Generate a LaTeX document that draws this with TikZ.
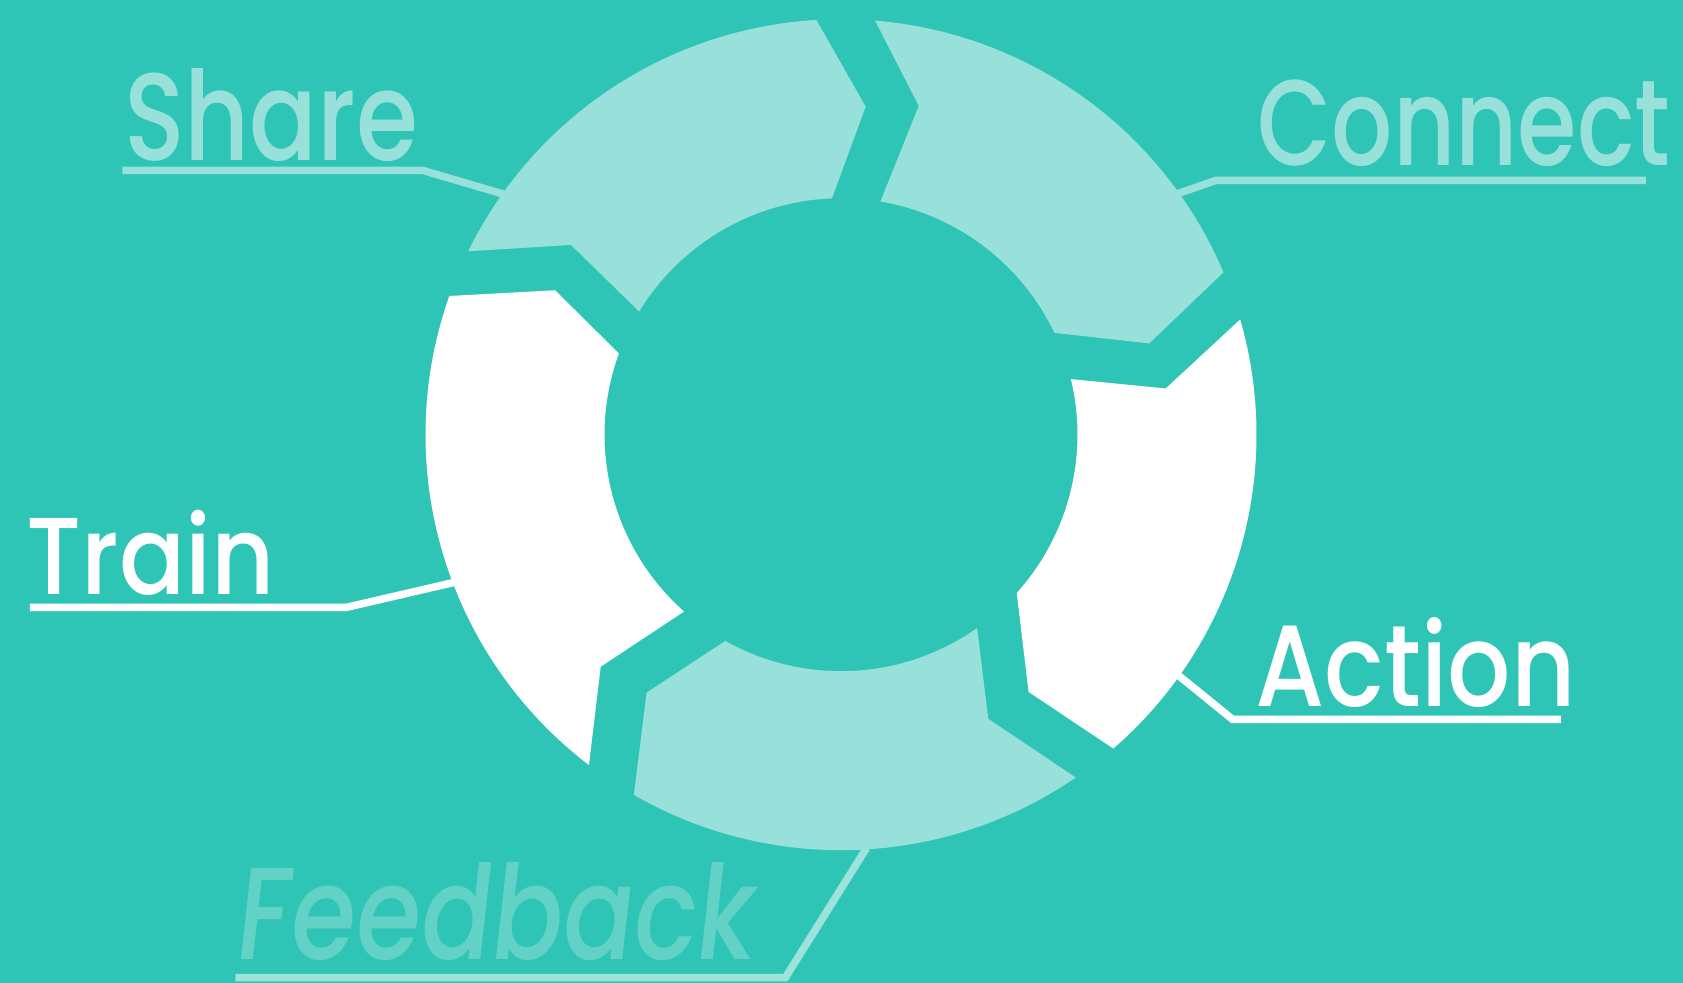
\documentclass[tikz,border=0pt]{standalone}
\usepackage{fontspec}
\IfFontExistsTF{Poppins Medium}
  {\setmainfont{Poppins Medium}\newfontfamily\slantfont{Poppins Medium}[FakeSlant=0.14]}
  {\setmainfont{Poppins}\newfontfamily\slantfont{Poppins}[FakeSlant=0.14]}
\usetikzlibrary{calc}
\definecolor{Teal}{HTML}{2FC5B6}
\definecolor{Mint}{HTML}{97E1DA}
\definecolor{MintMid}{HTML}{62D1C6}
\definecolor{MintLine}{HTML}{9DE3DC}
\newlength\pxu
\setlength\pxu{0.1mm}

\begin{document}
\begin{tikzpicture}[x=0.1mm,y=0.1mm,
    lead/.style={line width=7.5\pxu,draw=#1},
    lbl/.style={inner sep=0,anchor=base west,text=#1}
  ]
    \fill[Teal] (0,0) rectangle (1683,983);
    \coordinate (c) at (841,548.3);

    % labels
    \node[lbl=Mint] (share) at (123.4,822) {\resizebox{294\pxu}{92\pxu}{Share}};
    \node[lbl=Mint] (connect) at (1256.7,817.3) {\resizebox{413\pxu}{85.7\pxu}{Connect}};
    \node[lbl=white] (train) at (26,388) {\resizebox{248\pxu}{84.3\pxu}{Train}};
    \node[lbl=white] (action) at (1255,276.3) {\resizebox{320\pxu}{89\pxu}{Action}};
    \node[lbl=MintMid] (feedback) at (233,23.7) {\resizebox{518\pxu}{97\pxu}{\slantfont Feedback}};

    % underline + leader to the ring
    \coordinate (share-a) at (122.3,812.7);   \coordinate (share-k) at (422.5,812.7);
    \coordinate (connect-a) at (1645.9,802.5); \coordinate (connect-k) at (1215.6,802.5);
    \coordinate (train-a) at (29.9,375.7);    \coordinate (train-k) at (346.7,375.7);
    \coordinate (action-a) at (1560.8,263.7);  \coordinate (action-k) at (1232.5,263.7);
    \coordinate (feedback-a) at (235.4,5.3);  \coordinate (feedback-k) at (785.3,5.3);
    \coordinate (share-e) at ($(c)+(144.5:414)$);
    \coordinate (connect-e) at ($(c)+(35.6:414)$);
    \coordinate (train-e) at ($(c)+(200.9:414)$);
    \coordinate (action-e) at ($(c)+(-35.5:414)$);
    \coordinate (feedback-e) at ($(c)+(-86.45:414)$);
    \draw[lead=Mint] (share-a) -- (share-k) -- (share-e);
    \draw[lead=Mint] (connect-a) -- (connect-k) -- (connect-e);
    \draw[lead=white] (train-a) -- (train-k) -- (train-e);
    \draw[lead=white] (action-a) -- (action-k) -- (action-e);
    \draw[lead=MintLine] (feedback-a) -- (feedback-k) -- (feedback-e);

    % ring: trailing notch, leading point (clockwise)
    \foreach \sa/\sn/\sr/\si/\ea/\en/\er/\ei/\clr in {
        153.8/144.9/330/148.6/93.4/85.7/329/92.2/Mint,
        85.3/76.7/338/80.4/23.0/16.5/321.5/25.5/Mint,
        16.1/8.1/328/13.6/-49.05/-53.9/318.4/-42.0/white,
        -55.6/-62.6/320/-54.85/-119.9/-127.0/323/-119.3/Mint,
        232.65/224.0/334/228.4/160.5/153.2/320.4/159.9/white}
      \fill[\clr,shift={(c)}] (\sa:415.5) arc[start angle=\sa,end angle=\ea,radius=415.5]
        -- (\en:\er) -- (\ei:236.5) arc[start angle=\ei,end angle=\si,radius=236.5]
        -- (\sn:\sr) -- cycle;
  \end{tikzpicture}
\end{document}
